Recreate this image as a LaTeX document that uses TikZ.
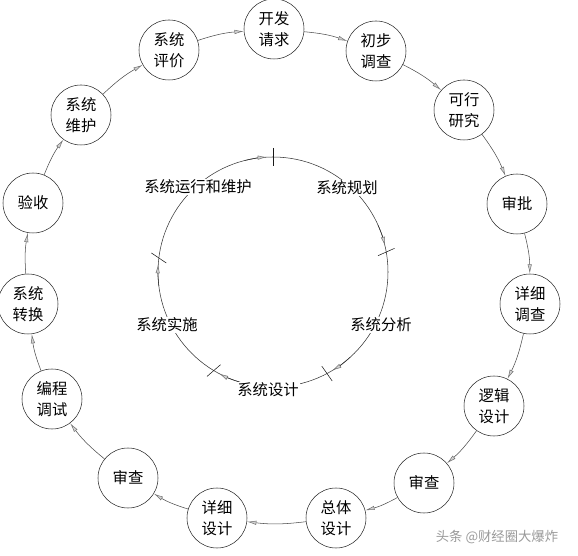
\documentclass[tikz,border=0pt]{standalone}
\usepackage{fontspec}
\newfontfamily\cjk{Noto Sans CJK SC}
\usetikzlibrary{arrows.meta}

\tikzset{
  stage/.style={draw=black!85, circle, thin, minimum size=45pt, inner sep=0pt,
    align=center, font=\cjk\fontsize{11.5}{16}\selectfont},
  flow/.style={draw=black!70, thin,
    -{Latex[length=7pt,width=3.2pt,color=black!55,fill=gray!35]}, bend left=7},
  phase/.style={fill=white, inner sep=1pt, font=\cjk\fontsize{11.5}{13}\selectfont},
  ring/.style={draw=black!80, thin},
  cyctip/.style={draw=black!80, thin, -{Latex[length=7pt,width=3.2pt,color=black!55,fill=gray!35]}},
  tickmark/.style={draw=black!90, thin},
}

\begin{document}
\begin{tikzpicture}[x=0.75pt,y=0.75pt]
    \useasboundingbox (0,0) rectangle (578,556);

    % outer ring of stages
    \node[stage] (kf)  at (274,527) {开发\\请求};
    \node[stage] (cb)  at (376,505) {初步\\调查};
    \node[stage] (kx)  at (464,446) {可行\\研究};
    \node[stage] (sp)  at (517,352) {审批};
    \node[stage] (xd)  at (530,252) {详细\\调查};
    \node[stage] (lj)  at (494,150) {逻辑\\设计};
    \node[stage] (sc1) at (424,73)  {审查};
    \node[stage] (zt)  at (336,38)  {总体\\设计};
    \node[stage] (xs)  at (217,38)  {详细\\设计};
    \node[stage] (sc2) at (128,78)  {审查};
    \node[stage] (bc)  at (52,157)  {编程\\调试};
    \node[stage] (zh)  at (28,252)  {系统\\转换};
    \node[stage] (ys)  at (33,353)  {验收};
    \node[stage] (wh)  at (81,441)  {系统\\维护};
    \node[stage] (pj)  at (169,506) {系统\\评价};

    \draw[flow] (kf) to (cb);
    \draw[flow] (cb) to (kx);
    \draw[flow] (kx) to (sp);
    \draw[flow] (sp) to (xd);
    \draw[flow] (xd) to (lj);
    \draw[flow] (lj) to (sc1);
    \draw[flow] (sc1) to (zt);
    \draw[flow] (zt) to (xs);
    \draw[flow] (xs) to (sc2);
    \draw[flow] (sc2) to (bc);
    \draw[flow] (bc) to (zh);
    \draw[flow] (zh) to (ys);
    \draw[flow] (ys) to (wh);
    \draw[flow] (wh) to (pj);
    \draw[flow] (pj) to (kf);

    % inner life cycle
    \coordinate (cyc) at (273,284);
    \draw[ring] (cyc) circle[radius=115];
    \foreach \a in {90,10,-62,-121,173}
        \draw[cyctip] ([shift={(\a+14:115)}]cyc) arc[start angle=\a+14, end angle=\a+3, radius=115];
    \foreach \a/\t in {90/90,10/24,-62/-55,-121/41,173/-34}
        \draw[tickmark] ([shift={(\a:115)}]cyc) ++(\t:9) -- ++(\t:-18);

    \node[phase] (gh) at (347,368) {系统规划};
    \node[phase] (fx) at (381,231) {系统分析};
    \node[phase] (sj) at (268,166) {系统设计};
    \node[phase] (ss) at (167,231) {系统实施};
    \node[phase] (yx) at (198,369) {系统运行和维护};

    % watermark
    \node[text=gray!80, font=\cjk\fontsize{10}{12}\selectfont] (wm) at (497,19) {头条 @财经圈大爆炸};

\end{tikzpicture}
\end{document}
